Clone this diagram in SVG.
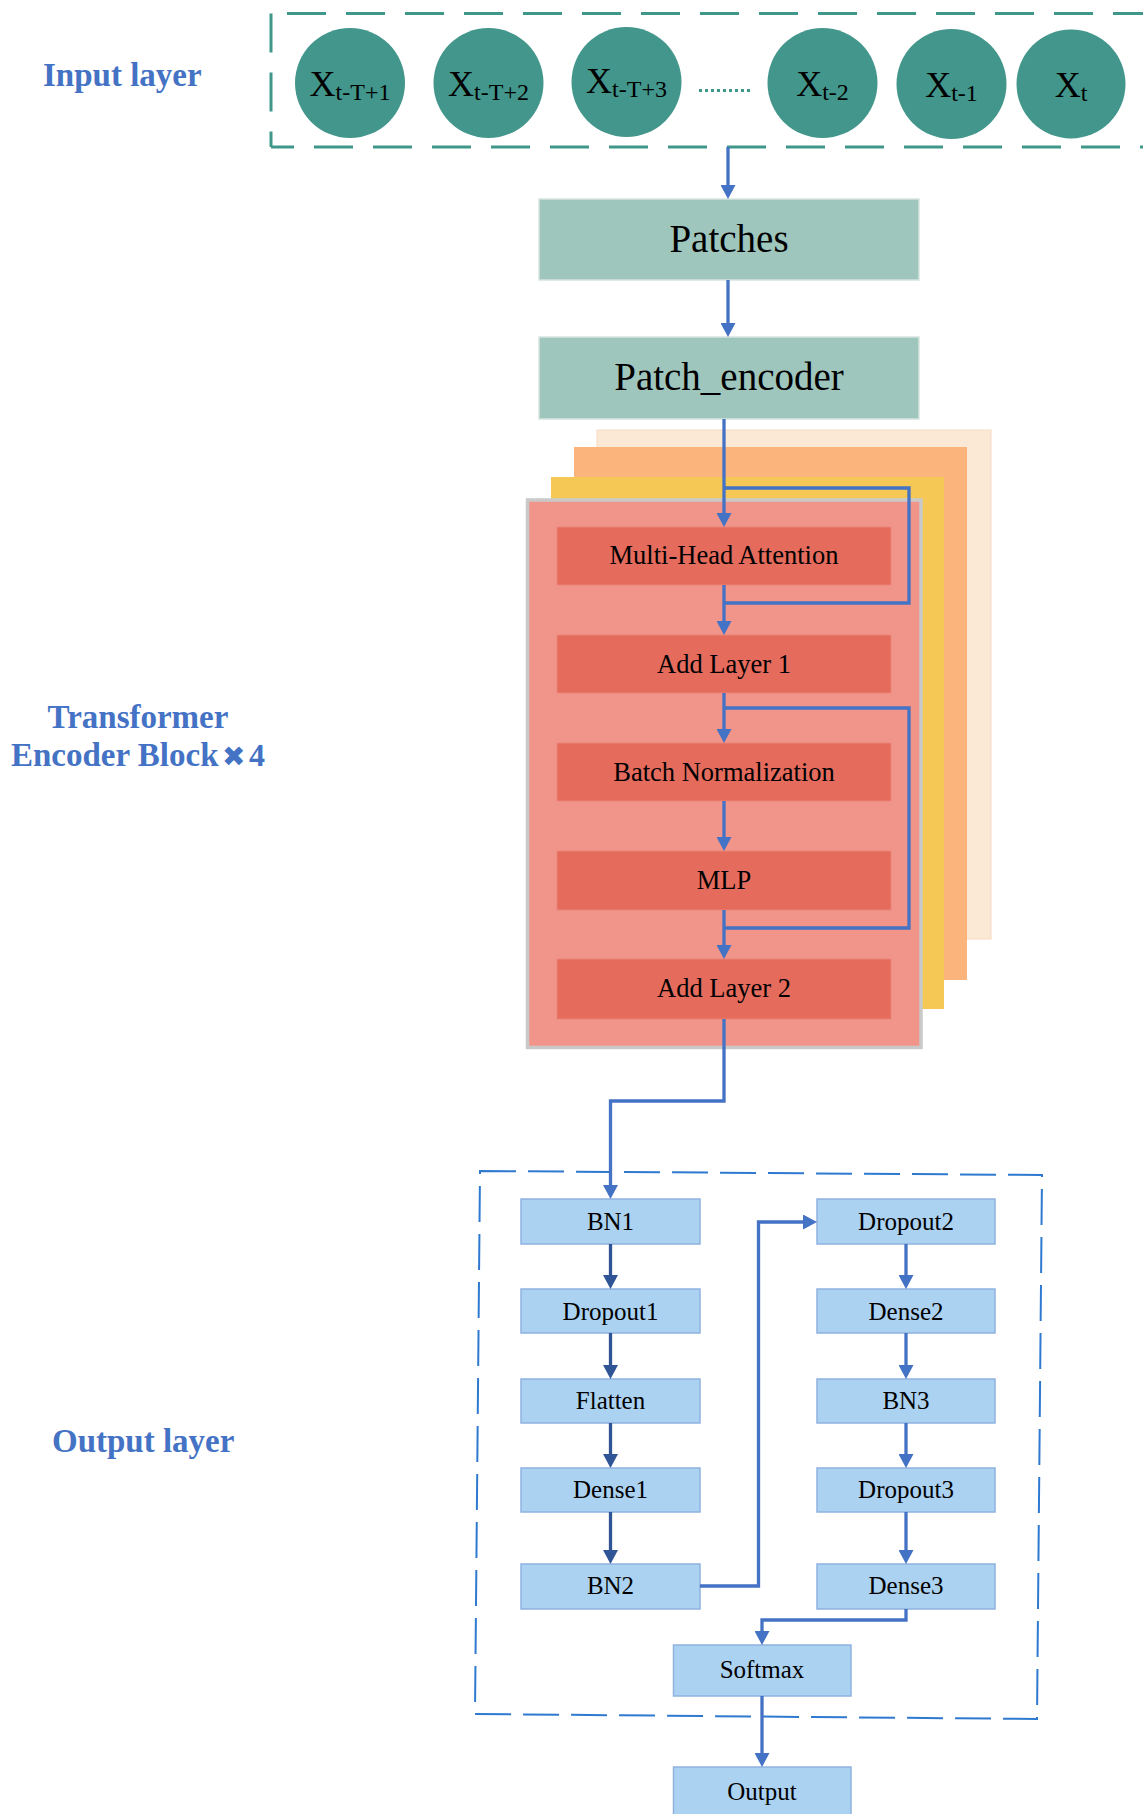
<svg xmlns="http://www.w3.org/2000/svg" width="1143" height="1814" viewBox="0 0 1143 1814">
<style>
.lbl{font-family:"Liberation Serif","Times New Roman",serif;font-weight:bold;fill:#4472c4;font-size:33px}
.t{font-family:"Liberation Serif","Times New Roman",serif;fill:#000;text-anchor:middle}
.circ{fill:#42968b}
.xt{font-size:36px}
.sub{font-size:24px}
.dash{fill:none;stroke:#3f978a;stroke-width:3;stroke-dasharray:39 20}
.patch{fill:#9fc6bd;stroke:#d6e3df;stroke-width:1.5}
.tb{fill:#e56b5d;stroke:#ea8478;stroke-width:1}
.tbt{font-size:26.5px}
.ob{fill:#acd2f2;stroke:#8fb2df;stroke-width:1.5}
.obt{font-size:25px}
.c{fill:none;stroke:#4472c4;stroke-width:3.3}
.cd{fill:none;stroke:#2f5597;stroke-width:3.3}
</style>
<defs>
<marker id="ah" markerUnits="userSpaceOnUse" markerWidth="15" markerHeight="15" viewBox="0 0 14 15" refX="10" refY="7.5" orient="auto">
<path d="M0,0 L14,7.5 L0,15 z" fill="#4472c4"/>
</marker>
<marker id="ahd" markerUnits="userSpaceOnUse" markerWidth="15" markerHeight="15" viewBox="0 0 14 15" refX="10" refY="7.5" orient="auto">
<path d="M0,0 L14,7.5 L0,15 z" fill="#2f5597"/>
</marker>
</defs>
<rect width="1143" height="1814" fill="#fff"/>

<!-- side labels -->
<g id="labels">
<text class="lbl" x="43" y="86">Input layer</text>
<text class="lbl" x="138" y="728" text-anchor="middle">Transformer</text>
<text class="lbl" x="11" y="766" font-size="32">Encoder Block</text>
<text class="lbl" x="222" y="766"><tspan font-family="DejaVu Sans, sans-serif" font-size="28">✖</tspan><tspan x="249" font-size="32">4</tspan></text>
<text class="lbl" x="52" y="1452">Output layer</text>
</g>

<!-- input layer -->
<g id="input-layer">
<path class="dash" d="M1152,13.5 H271"/>
<path class="dash" d="M271,13.5 V147"/>
<path class="dash" d="M1179,147 H271"/>
<g id="x1"><circle class="circ" cx="350" cy="83" r="55"/><text class="t xt" x="350" y="96">X<tspan class="sub" dy="4">t-T+1</tspan></text></g>
<g id="x2"><circle class="circ" cx="488.5" cy="83" r="55"/><text class="t xt" x="488.5" y="96">X<tspan class="sub" dy="4">t-T+2</tspan></text></g>
<g id="x3"><circle class="circ" cx="626.5" cy="82" r="55"/><text class="t xt" x="626.5" y="93">X<tspan class="sub" dy="4">t-T+3</tspan></text></g>
<line x1="699" y1="90.5" x2="753" y2="90.5" stroke="#3f978a" stroke-width="3" stroke-dasharray="3 3"/>
<g id="x4"><circle class="circ" cx="822.5" cy="83" r="55"/><text class="t xt" x="822.5" y="96">X<tspan class="sub" dy="4">t-2</tspan></text></g>
<g id="x5"><circle class="circ" cx="951.5" cy="84" r="55"/><text class="t xt" x="951.5" y="97">X<tspan class="sub" dy="4">t-1</tspan></text></g>
<g id="x6"><circle class="circ" cx="1071" cy="84" r="54.5"/><text class="t xt" x="1071" y="97">X<tspan class="sub" dy="4">t</tspan></text></g>
</g>

<g id="patches"><rect class="patch" x="539" y="199" width="380" height="81"/><text class="t" x="729" y="252" font-size="39">Patches</text></g>
<g id="patch-encoder"><rect class="patch" x="539" y="337" width="380" height="82"/><text class="t" x="729" y="390" font-size="39">Patch_encoder</text></g>

<!-- transformer stack -->
<g id="transformer-block">
<rect x="597" y="430" width="394" height="509" fill="#fbe8d5" stroke="#f4dcc4" stroke-width="1"/>
<rect x="574" y="447" width="393" height="533" fill="#fbb47c"/>
<rect x="551" y="477" width="393" height="532" fill="#f5c856"/>
<rect x="527.5" y="500" width="393.5" height="547.5" fill="#f1958a" stroke="#c9c9c9" stroke-width="3.5"/>
</g>
<g id="mha"><rect class="tb" x="557" y="527" width="334" height="58"/><text class="t tbt" x="724" y="564">Multi-Head Attention</text></g>
<g id="add1"><rect class="tb" x="557" y="635" width="334" height="58"/><text class="t tbt" x="724" y="673">Add Layer 1</text></g>
<g id="bn"><rect class="tb" x="557" y="743" width="334" height="58"/><text class="t tbt" x="724" y="781">Batch Normalization</text></g>
<g id="mlp"><rect class="tb" x="557" y="851" width="334" height="59"/><text class="t tbt" x="724" y="889">MLP</text></g>
<g id="add2"><rect class="tb" x="557" y="959" width="334" height="60"/><text class="t tbt" x="724" y="997">Add Layer 2</text></g>

<!-- output layer -->
<path id="output-frame" d="M480,1171 L1042,1175 L1037,1719 L475,1714 Z" fill="none" stroke="#2f7ad0" stroke-width="2" stroke-dasharray="36 12"/>
<g id="bn1"><rect class="ob" x="521" y="1199" width="179" height="45"/><text class="t obt" x="610.5" y="1230">BN1</text></g>
<g id="dropout1"><rect class="ob" x="521" y="1289" width="179" height="44"/><text class="t obt" x="610.5" y="1320">Dropout1</text></g>
<g id="flatten"><rect class="ob" x="521" y="1379" width="179" height="44"/><text class="t obt" x="610.5" y="1409">Flatten</text></g>
<g id="dense1"><rect class="ob" x="521" y="1468" width="179" height="44"/><text class="t obt" x="610.5" y="1498">Dense1</text></g>
<g id="bn2"><rect class="ob" x="521" y="1564" width="179" height="45"/><text class="t obt" x="610.5" y="1594">BN2</text></g>
<g id="dropout2"><rect class="ob" x="817" y="1199" width="178" height="45"/><text class="t obt" x="906" y="1230">Dropout2</text></g>
<g id="dense2"><rect class="ob" x="817" y="1289" width="178" height="44"/><text class="t obt" x="906" y="1320">Dense2</text></g>
<g id="bn3"><rect class="ob" x="817" y="1379" width="178" height="44"/><text class="t obt" x="906" y="1409">BN3</text></g>
<g id="dropout3"><rect class="ob" x="817" y="1468" width="178" height="44"/><text class="t obt" x="906" y="1498">Dropout3</text></g>
<g id="dense3"><rect class="ob" x="817" y="1564" width="178" height="45"/><text class="t obt" x="906" y="1594">Dense3</text></g>
<g id="softmax"><rect class="ob" x="673.5" y="1645" width="177.5" height="51"/><text class="t obt" x="762" y="1678">Softmax</text></g>
<g id="output"><rect class="ob" x="673.5" y="1767" width="177.5" height="52"/><text class="t obt" x="762" y="1800">Output</text></g>

<!-- connectors -->
<g id="connectors">
<path class="c" d="M728,147 V195" marker-end="url(#ah)"/>
<path class="c" d="M728,280 V333" marker-end="url(#ah)"/>
<path class="c" d="M724,419 V523" marker-end="url(#ah)"/>
<path class="c" d="M724,488 H909 V603 H724"/>
<path class="c" d="M724,585 V631" marker-end="url(#ah)"/>
<path class="c" d="M724,693 V739" marker-end="url(#ah)"/>
<path class="c" d="M724,708 H909 V928 H724"/>
<path class="c" d="M724,801 V847" marker-end="url(#ah)"/>
<path class="c" d="M724,910 V955" marker-end="url(#ah)"/>
<path class="c" d="M724,1019 V1101 H610.5 V1195" marker-end="url(#ah)"/>
<path class="cd" d="M610.5,1244 V1285" marker-end="url(#ahd)"/>
<path class="cd" d="M610.5,1333 V1375" marker-end="url(#ahd)"/>
<path class="cd" d="M610.5,1423 V1464" marker-end="url(#ahd)"/>
<path class="cd" d="M610.5,1512 V1560" marker-end="url(#ahd)"/>
<path class="c" d="M700,1586 H758.5 V1222 H813" marker-end="url(#ah)"/>
<path class="c" d="M906,1244 V1285" marker-end="url(#ah)"/>
<path class="c" d="M906,1333 V1375" marker-end="url(#ah)"/>
<path class="c" d="M906,1423 V1464" marker-end="url(#ah)"/>
<path class="c" d="M906,1512 V1560" marker-end="url(#ah)"/>
<path class="c" d="M906,1609 V1620 H762 V1641" marker-end="url(#ah)"/>
<path class="c" d="M762,1696 V1763" marker-end="url(#ah)"/>
</g>
</svg>
